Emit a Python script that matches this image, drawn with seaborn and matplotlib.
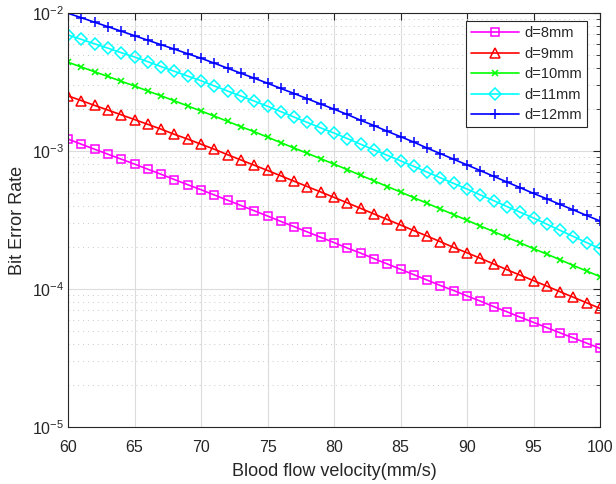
import numpy as np
import pandas as pd
import matplotlib
matplotlib.use("Agg")
import matplotlib.pyplot as plt
import matplotlib.ticker as mticker
import seaborn as sns

velocity = list(range(60, 101))

ber_d8 = [1.22e-3, 1.12e-3, 1.03e-3, 9.48e-4, 8.73e-4, 8.04e-4, 7.38e-4, 6.78e-4, 6.21e-4, 5.70e-4,
          5.24e-4, 4.80e-4, 4.40e-4, 4.03e-4, 3.69e-4, 3.38e-4, 3.09e-4, 2.83e-4, 2.59e-4, 2.37e-4,
          2.17e-4, 1.98e-4, 1.82e-4, 1.66e-4, 1.52e-4, 1.39e-4, 1.27e-4, 1.16e-4, 1.06e-4, 9.75e-5,
          8.91e-5, 8.17e-5, 7.46e-5, 6.84e-5, 6.25e-5, 5.73e-5, 5.25e-5, 4.81e-5, 4.42e-5, 4.05e-5,
          3.71e-5]
ber_d9 = [2.51e-3, 2.32e-3, 2.14e-3, 1.98e-3, 1.83e-3, 1.69e-3, 1.56e-3, 1.44e-3, 1.32e-3, 1.22e-3,
          1.12e-3, 1.03e-3, 9.40e-4, 8.61e-4, 7.89e-4, 7.23e-4, 6.61e-4, 6.04e-4, 5.52e-4, 5.05e-4,
          4.61e-4, 4.21e-4, 3.84e-4, 3.50e-4, 3.19e-4, 2.91e-4, 2.65e-4, 2.42e-4, 2.20e-4, 2.00e-4,
          1.83e-4, 1.67e-4, 1.52e-4, 1.38e-4, 1.26e-4, 1.15e-4, 1.05e-4, 9.55e-5, 8.71e-5, 7.94e-5,
          7.24e-5]
ber_d10 = [4.40e-3, 4.06e-3, 3.75e-3, 3.47e-3, 3.20e-3, 2.96e-3, 2.72e-3, 2.51e-3, 2.31e-3, 2.12e-3,
           1.95e-3, 1.79e-3, 1.64e-3, 1.50e-3, 1.38e-3, 1.26e-3, 1.15e-3, 1.05e-3, 9.62e-4, 8.79e-4,
           8.04e-4, 7.33e-4, 6.67e-4, 6.08e-4, 5.53e-4, 5.05e-4, 4.59e-4, 4.18e-4, 3.80e-4, 3.46e-4,
           3.15e-4, 2.86e-4, 2.61e-4, 2.37e-4, 2.16e-4, 1.96e-4, 1.79e-4, 1.63e-4, 1.48e-4, 1.35e-4,
           1.23e-4]
ber_d11 = [6.93e-3, 6.44e-3, 5.98e-3, 5.56e-3, 5.16e-3, 4.80e-3, 4.44e-3, 4.09e-3, 3.78e-3, 3.49e-3,
           3.23e-3, 2.96e-3, 2.72e-3, 2.50e-3, 2.30e-3, 2.11e-3, 1.93e-3, 1.76e-3, 1.61e-3, 1.47e-3,
           1.35e-3, 1.23e-3, 1.12e-3, 1.02e-3, 9.31e-4, 8.49e-4, 7.73e-4, 7.03e-4, 6.40e-4, 5.82e-4,
           5.30e-4, 4.81e-4, 4.37e-4, 3.96e-4, 3.60e-4, 3.27e-4, 2.95e-4, 2.66e-4, 2.40e-4, 2.17e-4,
           1.96e-4]
ber_d12 = [9.95e-3, 9.25e-3, 8.57e-3, 7.96e-3, 7.38e-3, 6.85e-3, 6.35e-3, 5.89e-3, 5.47e-3, 5.07e-3,
           4.70e-3, 4.33e-3, 3.98e-3, 3.66e-3, 3.37e-3, 3.10e-3, 2.84e-3, 2.61e-3, 2.39e-3, 2.19e-3,
           2.01e-3, 1.84e-3, 1.67e-3, 1.53e-3, 1.39e-3, 1.27e-3, 1.16e-3, 1.05e-3, 9.57e-4, 8.71e-4,
           7.93e-4, 7.21e-4, 6.56e-4, 5.96e-4, 5.42e-4, 4.93e-4, 4.50e-4, 4.10e-4, 3.74e-4, 3.41e-4,
           3.11e-4]

labels = ["d=8mm", "d=9mm", "d=10mm", "d=11mm", "d=12mm"]
series = [ber_d8, ber_d9, ber_d10, ber_d11, ber_d12]
colors = ["#ff00ff", "#ff0000", "#00ff00", "#00ffff", "#0000ff"]
markers = ["s", "^", "x", "D", "+"]
msizes = [5.5, 7.5, 5.0, 6.3, 6.5]

sns.set_theme(style="white")
plt.rcParams["font.family"] = ["Liberation Sans", "DejaVu Sans"]
plt.rcParams["mathtext.fontset"] = "custom"
plt.rcParams["mathtext.rm"] = "Liberation Sans"
plt.rcParams["mathtext.it"] = "Liberation Sans:italic"

fig = plt.figure(figsize=(6.16, 4.84), dpi=100)
ax = fig.add_axes([68 / 616, 57 / 484, 532 / 616, 414 / 484])

for lab, ys, c, m, ms in zip(labels, series, colors, markers, msizes):
    df = pd.DataFrame({"v": velocity, "ber": ys})
    sns.lineplot(data=df, x="v", y="ber", ax=ax, color=c, marker=m,
                 markersize=ms, markerfacecolor="none", markeredgecolor=c,
                 markeredgewidth=1.1, linewidth=1.2, label=lab)

ax.set_yscale("log")
ax.set_xlim(60, 100)
ax.set_ylim(1e-5, 1e-2)
ax.set_xticks(range(60, 101, 5))
ax.yaxis.set_major_locator(mticker.LogLocator(base=10, numticks=10))
ax.yaxis.set_minor_locator(mticker.LogLocator(base=10, subs=np.arange(2, 10), numticks=20))
ax.yaxis.set_minor_formatter(mticker.NullFormatter())

ax.grid(True, which="major", axis="both", color="#dcdcdc", linestyle="-", linewidth=0.8)
ax.grid(True, which="minor", axis="y", color="#c8c8c8", linestyle=(0, (1, 4)), linewidth=0.7)
ax.set_axisbelow(True)

for sp in ax.spines.values():
    sp.set_color("#262626")
    sp.set_linewidth(0.8)

ax.tick_params(axis="both", which="both", direction="in", top=True, right=True,
               colors="#262626", labelsize=11.5)
ax.tick_params(axis="both", which="major", length=5, width=0.8)
ax.tick_params(axis="y", which="minor", length=3, width=0.6)
ax.tick_params(axis="x", which="major", pad=9)
ax.tick_params(axis="y", which="major", pad=3)

ax.set_xlabel("Blood flow velocity(mm/s)", fontsize=13, color="#262626", labelpad=6)
ax.set_ylabel("Bit Error Rate", fontsize=13, color="#262626", labelpad=4)

leg = ax.legend(loc="upper right", bbox_to_anchor=(519 / 532, 406 / 414), borderaxespad=0,
                fontsize=10.5, handlelength=3.3, handletextpad=0.35, fancybox=False, frameon=True,
                framealpha=1, edgecolor="#262626", labelspacing=0.45, borderpad=0.35)
leg.get_frame().set_linewidth(0.8)

fig.savefig("out.png", dpi=100)
